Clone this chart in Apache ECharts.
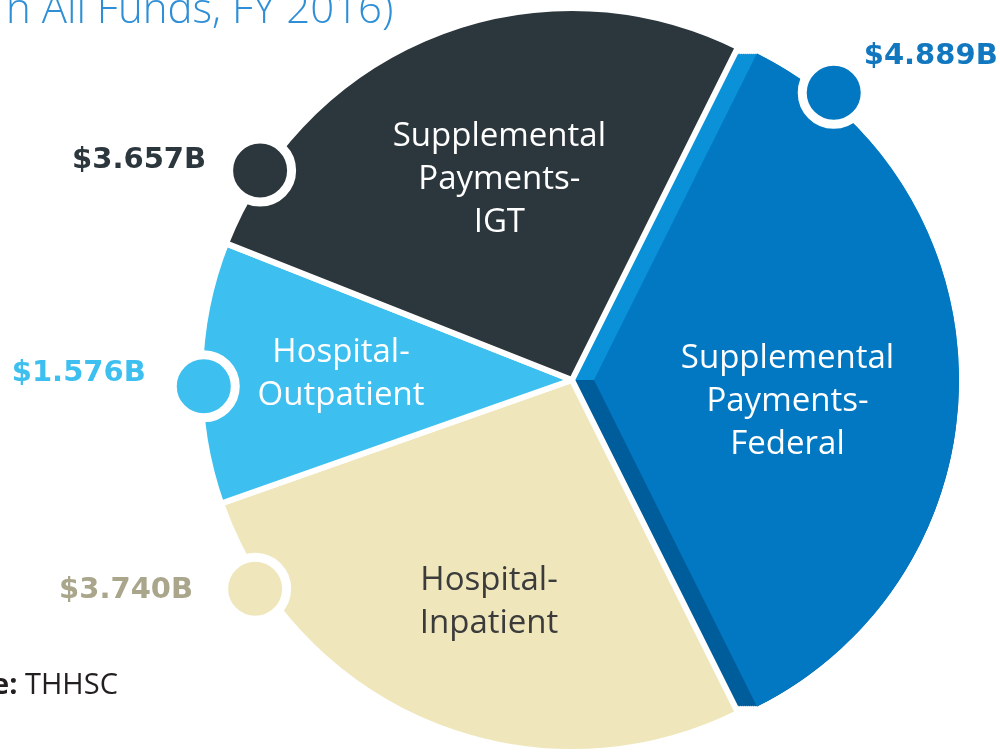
<!DOCTYPE html>
<html>
<head>
<meta charset="utf-8">
<title>Hospital payments FY 2016</title>
<script src="https://cdn.jsdelivr.net/npm/echarts@6/dist/echarts.min.js"></script>
<style>
  html, body { margin: 0; padding: 0; background: #fff; }
  #chart { width: 1000px; height: 754px; }
</style>
</head>
<body>
<div id="chart"></div>
<script>
// slices in clockwise order, starting with the exploded one
var categories = ['Supplemental Payments-Federal', 'Hospital-Inpatient', 'Hospital-Outpatient', 'Supplemental Payments-IGT']
var sliceLabels = ['Supplemental\nPayments-\nFederal', 'Hospital-\nInpatient', 'Hospital-\nOutpatient', 'Supplemental\nPayments-\nIGT']
var values = [4.889, 3.740, 1.576, 3.657]
var valueLabels = ['$4.889B', '$3.740B', '$1.576B', '$3.657B']

var colors = ['#0277c2', '#efe7bb', '#3dbff0', '#2c373d']
var textColors = ['#ffffff', '#3b3b3b', '#ffffff', '#ffffff']
var valueColors = ['#1177bf', '#a9a68b', '#3dbff0', '#2c373d']
var faceLight = '#0a91d8'
var faceDark = '#005d9b'

var cx = 572, cy = 380
var R = 372        // radius of the other slices (white border eats 3px)
var Rf = 365       // radius of the pulled-out slice
var pull = 22      // how far the federal slice is pulled right
var font = '"Open Sans", "Noto Sans", sans-serif'

var total = values.reduce(function(a, b) { return a + b }, 0)
var fed = values[0]
var rest = total - fed
var startAngle = fed / total * 180

// slice ranges in math degrees (counter-clockwise from east)
var ranges = []
var a = startAngle
values.forEach(function(v) {
	var deg = v / total * 360
	ranges.push([a - deg, a])
	a -= deg
})

// where the round callout sits, as a fraction along the slice and radius
var callout = [
	{ f: 0.895, r: 1.025, pos: 'right', dist: 0, off: [-6, -36] },
	{ f: 0.144, r: 1.02, pos: 'left', dist: 26, off: [0, 2] },
	{ f: 0.55, r: 0.99, pos: 'left', dist: 22, off: [0, -13] },
	{ f: 0.87, r: 1.01, pos: 'left', dist: 18, off: [0, -10] }
]

// nudges for the text inside the slices, by data index of categories
var nudge = [[8, 22], [-12, 47], [-42, -2], [-5, -24]]

var labelStyle = function(i) {
	return {
		show: true,
		position: 'inside',
		formatter: sliceLabels[i],
		color: textColors[i],
		fontFamily: font,
		fontSize: 33,
		fontWeight: 'normal',
		lineHeight: 43,
		align: 'center'
	}
}

var series = []

// side faces of the pulled-out slice: the slice swept along its pull
for (var k = 0; k <= pull; k += 2) {
	series.push({
		type: 'pie',
		silent: true,
		animation: false,
		center: [cx + k, cy],
		radius: [0, Rf],
		startAngle: startAngle,
		label: { show: false },
		labelLine: { show: false },
		emphasis: { disabled: true },
		data: [
			{ value: fed / 2, itemStyle: { color: faceLight } },
			{ value: fed / 2, itemStyle: { color: faceDark } },
			{ value: rest, itemStyle: { color: 'transparent' } }
		]
	})
}

// the other slices
series.push({
	type: 'pie',
	silent: true,
	animation: false,
	center: [cx, cy],
	radius: [0, R],
	startAngle: startAngle,
	emphasis: { disabled: true },
	labelLine: { show: false },
	data: values.map(function(v, i) {
		if (i === 0) {
			return { name: categories[i], value: v, itemStyle: { color: 'transparent', borderWidth: 0 }, label: { show: false } }
		}
		return {
			name: categories[i],
			value: v,
			itemStyle: { color: colors[i], borderColor: '#fff', borderWidth: 6 },
			label: labelStyle(i)
		}
	}),
	labelLayout: function(p) {
		var n = nudge[p.dataIndex]
		return { dx: n[0], dy: n[1] }
	}
})

// the pulled-out slice
series.push({
	type: 'pie',
	silent: true,
	animation: false,
	center: [cx + pull, cy],
	radius: [0, Rf],
	startAngle: startAngle,
	emphasis: { disabled: true },
	labelLine: { show: false },
	data: [
		{ name: categories[0], value: fed, itemStyle: { color: colors[0] }, label: labelStyle(0) },
		{ name: 'rest', value: rest, itemStyle: { color: 'transparent' }, label: { show: false } }
	],
	labelLayout: function(p) {
		var n = nudge[0]
		return { dx: n[0], dy: n[1] }
	}
})

// round callouts with the dollar values
values.forEach(function(v, i) {
	var c = callout[i]
	var ang = ranges[i][0] + c.f * (ranges[i][1] - ranges[i][0])
	ang = (ang + 720) % 360
	series.push({
		type: 'scatter',
		coordinateSystem: 'polar',
		polarIndex: i === 0 ? 1 : 0,
		silent: true,
		animation: false,
		symbol: 'circle',
		symbolSize: 63,
		itemStyle: { color: colors[i], borderColor: '#fff', borderWidth: 9, opacity: 1 },
		label: {
			show: true,
			position: c.pos,
			distance: c.dist,
			offset: c.off,
			formatter: valueLabels[i],
			color: valueColors[i],
			opacity: 1,
			fontFamily: '"DejaVu Sans", sans-serif',
			fontWeight: 'bold',
			fontSize: 29
		},
		data: [[c.r, ang]]
	})
})

var polarBase = function(center, radius) {
	return { center: center, radius: radius * 1.1 }
}
var angleAxis = function(idx) {
	return { polarIndex: idx, type: 'value', min: 0, max: 360, startAngle: 0, clockwise: false, show: false }
}
var radiusAxis = function(idx) {
	return { polarIndex: idx, type: 'value', min: 0, max: 1.1, show: false }
}

var option = {
	backgroundColor: '#fff',
	animation: false,
	polar: [polarBase([cx, cy], R), polarBase([cx + pull, cy], Rf)],
	angleAxis: [angleAxis(0), angleAxis(1)],
	radiusAxis: [radiusAxis(0), radiusAxis(1)],
	graphic: [
		{
			type: 'text',
			x: 6,
			y: -10,
			silent: true,
			style: {
				text: 'n All Funds, FY 2016)',
				fill: '#2f8fd6',
				font: '300 42px "Open Sans", sans-serif'
			}
		},
		{
			type: 'text',
			x: -89,
			y: 671,
			silent: true,
			style: {
				text: '{b|Source:} THHSC',
				fill: '#231f20',
				font: '29px "Open Sans", sans-serif',
				rich: {
					b: { fontWeight: 'bold', fontSize: 29, fontFamily: '"Open Sans", sans-serif', fill: '#231f20' }
				}
			}
		}
	],
	series: series
}

var myChart = echarts.init(document.getElementById('chart'), null, { renderer: 'canvas' })
myChart.setOption(option)
</script>
</body>
</html>
